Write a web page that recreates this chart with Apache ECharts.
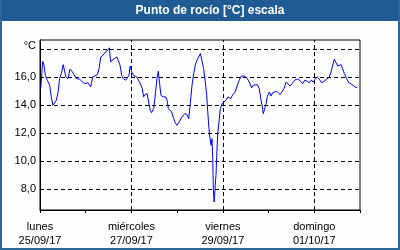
<!DOCTYPE html>
<html>
<head>
<meta charset="utf-8">
<script src="https://cdn.jsdelivr.net/npm/echarts@6/dist/echarts.min.js"></script>
<style>
html,body{margin:0;padding:0;background:#fdfefd;}
#c{width:400px;height:250px;}
</style>
</head>
<body>
<div id="c"></div>
<script>
// Hours since lunes 25/09/17 00:00
var hours = [0.4,1.4,2.1,2.8,3.8,5.1,5.9,6.8,7.4,8.6,9.5,10.3,11.2,12.2,13.0,13.6,14.7,15.7,16.8,17.8,19.1,20.8,22.0,23.5,25.2,26.6,27.7,28.7,30.1,31.0,31.9,33.1,34.3,35.6,36.4,37.1,38.0,39.0,40.3,41.1,42.0,42.9,43.7,45.0,46.0,46.7,47.4,48.1,49.0,49.9,50.8,51.6,52.7,53.7,54.4,55.1,56.2,57.2,57.9,58.6,59.7,60.4,61.4,62.1,62.8,63.5,64.7,66.0,66.7,67.4,68.4,69.1,70.2,71.0,71.9,73.1,74.5,76.0,77.2,78.1,78.9,79.8,80.7,81.5,82.4,83.3,84.2,85.0,85.9,86.8,87.5,88.2,88.9,89.4,89.8,90.3,90.7,91.0,91.4,91.7,92.0,92.4,92.8,93.3,93.8,94.7,95.6,96.6,97.7,98.7,99.4,100.1,101.2,102.5,103.6,104.6,105.7,106.4,107.6,108.8,109.9,111.1,112.0,112.8,114.1,115.1,115.9,116.6,117.2,118.0,118.7,119.3,120.4,121.3,122.2,123.2,124.3,125.3,126.0,127.0,128.1,129.2,130.2,131.3,132.3,133.3,134.4,135.6,136.9,137.9,139.0,140.3,141.4,142.4,143.5,144.4,145.6,146.6,147.9,149.1,150.5,151.9,152.8,153.7,154.5,155.4,156.3,157.1,158.0,158.9,159.8,161.0,162.1,163.2,164.2,165.4,166.6];
var dewPoint = [15.19,17.14,16.86,16.14,15.79,15.43,14.6,14.0,14.1,14.36,14.95,15.9,16.26,16.9,16.38,16.02,15.9,16.57,16.43,16.19,15.9,15.86,15.71,15.54,15.61,15.31,16.02,16.14,16.19,16.61,17.45,17.57,17.81,17.93,18.1,17.1,17.04,17.33,17.45,17.21,16.86,16.14,15.9,15.79,15.79,16.14,16.8,16.38,16.14,16.26,16.02,15.9,15.54,15.19,14.6,14.76,14.83,14.83,13.64,13.47,13.76,14.6,15.9,16.43,15.54,14.71,14.6,14.6,14.36,13.76,13.76,13.52,13.04,12.74,12.57,12.81,13.16,13.4,13.33,13.04,14.11,15.43,16.26,16.86,17.21,17.45,17.69,17.21,16.61,15.66,14.71,13.28,11.97,11.97,11.14,11.61,10.19,8.04,7.09,7.57,8.29,9.0,10.43,11.97,12.57,13.76,14.11,14.04,14.36,14.6,14.71,14.47,14.76,14.95,15.43,15.79,16.09,16.21,16.07,15.9,15.66,15.24,15.43,15.54,15.47,15.19,14.47,14.0,13.4,13.76,14.11,14.6,14.95,14.66,14.9,15.0,15.0,14.95,14.76,14.95,15.19,15.66,15.54,15.38,15.54,15.71,15.86,15.86,15.71,15.54,15.79,15.71,15.61,15.79,15.66,15.86,16.02,15.86,15.61,15.71,15.86,16.02,16.38,16.86,17.29,17.04,16.8,16.67,16.9,16.61,16.26,15.9,15.61,15.54,15.43,15.31,15.24];
var yGridValues = [8,10,12,14,16,18];
var yLabelValues = [8,10,12,14,16];
var xLabelHours = [0,48,96,144];
var xDayNames = ['lunes','miércoles','viernes','domingo'];
var xDates = ['25/09/17','27/09/17','29/09/17','01/10/17'];
var titleText = 'Punto de rocío [°C] escala';
var unitText = '°C';

var FONT = 'Liberation Sans';
var chart = echarts.init(document.getElementById('c'), null, {renderer:'canvas'});
var gridDash = {color:'#000', type:[4,3], width:1};
var markData = yGridValues.map(function(v){return {yAxis:v};})
  .concat(xLabelHours.filter(function(h){return h>0;}).map(function(h){return {xAxis:h};}));

chart.setOption({
  animation:false,
  backgroundColor:'#fdfefd',
  grid:{left:40,right:40,top:40,bottom:40,show:true,borderColor:'#000',borderWidth:1,backgroundColor:'transparent'},
  xAxis:{
    type:'value',min:0,max:168,interval:24,
    axisLine:{show:true,lineStyle:{color:'#000',width:1}},
    axisTick:{show:true,length:3,inside:false,lineStyle:{color:'#000'}},
    splitLine:{show:false},
    axisLabel:{
      customValues:xLabelHours,
      margin:10,
      color:'#000',fontFamily:FONT,fontSize:11,lineHeight:14,
      formatter:function(v){var i=xLabelHours.indexOf(v);return i<0?'':xDayNames[i]+'\n'+xDates[i];}
    }
  },
  yAxis:{
    type:'value',min:6.52,max:18.66,
    axisLine:{show:true,lineStyle:{color:'#000',width:1}},
    axisTick:{show:false},
    splitLine:{show:false},
    axisLabel:{
      customValues:yLabelValues,
      margin:4,
      color:'#000',fontFamily:FONT,fontSize:11,
      formatter:function(v){return v.toFixed(1).replace('.',',');}
    }
  },
  series:[{
    type:'line',
    data:hours.map(function(h,i){return [h,dewPoint[i]];}),
    showSymbol:false,
    lineStyle:{color:'#0000ff',width:1},
    z:3,
    markLine:{
      silent:true,symbol:['none','none'],
      label:{show:false},
      lineStyle:gridDash,
      data:markData,
      z:1
    }
  }],
  graphic:[
    {type:'rect',shape:{x:0,y:0,width:400,height:21},style:{fill:'#1f5c94'},silent:true},
    {type:'rect',shape:{x:0,y:0,width:2,height:250},style:{fill:'#2d6699'},silent:true},
    {type:'rect',shape:{x:398,y:0,width:2,height:250},style:{fill:'#2d6699'},silent:true},
    {type:'rect',shape:{x:0,y:248,width:400,height:2},style:{fill:'#2d6699'},silent:true},
    {type:'text',x:210,y:11,style:{text:titleText,fill:'#fff',font:'bold 12px '+FONT,textAlign:'center',textVerticalAlign:'middle'},silent:true},
    {type:'text',x:36,y:46,style:{text:unitText,fill:'#000',font:'11px '+FONT,textAlign:'right',textVerticalAlign:'middle'},silent:true}
  ]
});
</script>
</body>
</html>
